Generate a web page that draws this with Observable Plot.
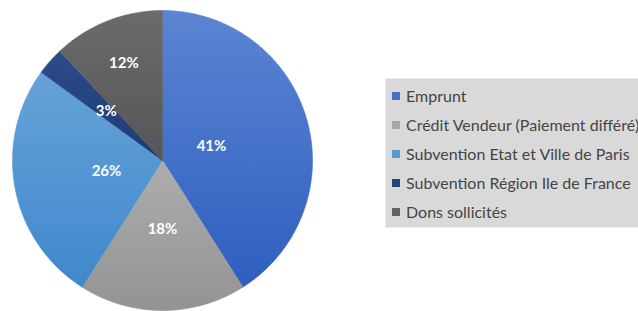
<!DOCTYPE html>
<html>
<head>
<meta charset="utf-8">
<script src="https://cdn.jsdelivr.net/npm/d3@7"></script>
<script src="https://cdn.jsdelivr.net/npm/@observablehq/plot@0.6"></script>
<style>
  html, body { margin: 0; padding: 0; background: #fff; width: 638px; height: 311px; overflow: hidden; }
  #wrap { position: relative; width: 638px; height: 311px; }
  #legend { position: absolute; left: 385px; top: 78px; width: 262px; height: 150px;
    background: #d9d9d9; border: 1px solid #ebebeb; box-sizing: border-box;
    font-family: Lato, "Open Sans", sans-serif; font-size: 16px; color: #454545; }
  .item { position: absolute; left: 6px; display: flex; align-items: center; white-space: nowrap; }
  .sw { width: 8px; height: 8px; margin-right: 6px; }
</style>
</head>
<body>
<div id="wrap"><div id="chart"></div><div id="legend"></div></div>
<script>
const categories = ["Emprunt", "Crédit Vendeur (Paiement différé)", "Subvention Etat et Ville de Paris", "Subvention Région Ile de France", "Dons sollicités"];
const values = [41, 18, 26, 3, 12];
const labels = ["41%", "18%", "26%", "3%", "12%"];
const colors = ["#4472c4", "#a5a5a5", "#5b9bd5", "#264478", "#636363"];
const gradTop = ["#5b85d3", "#adadad", "#66a2d9", "#2c4c88", "#6b6b6b"];
const gradBottom = ["#2f5ebf", "#939393", "#3f88cc", "#1e3a72", "#565656"];

const pie = d3.pie().sort(null).value(d => d)(values);

// polygon points for each slice in unit coordinates (angle 0 at top, clockwise)
const pts = [];
pie.forEach((p, i) => {
  const n = Math.max(4, Math.ceil((p.endAngle - p.startAngle) / 0.01));
  pts.push({i, x: 0, y: 0});
  for (let k = 0; k <= n; k++) {
    const a = p.startAngle + (p.endAngle - p.startAngle) * k / n;
    pts.push({i, x: Math.sin(a), y: Math.cos(a)});
  }
});
const labelRadius = [0.34, 0.46, 0.38, 0.5, 0.7];
const labelData = pie.map((p, i) => {
  const a = (p.startAngle + p.endAngle) / 2;
  const r = labelRadius[i];
  return {label: labels[i], x: r * Math.sin(a), y: r * Math.cos(a)};
});

const W = 638, H = 311;
const cx = 162, cy = 160, R = 150;
const plot = Plot.plot({
  width: W, height: H,
  marginLeft: cx - R, marginRight: W - (cx + R),
  marginTop: cy - R, marginBottom: H - (cy + R),
  x: {domain: [-1, 1], axis: null},
  y: {domain: [-1, 1], axis: null},
  color: {type: "identity"},
  style: {background: "transparent", overflow: "visible"},
  marks: [
    Plot.line(pts, {x: "x", y: "y", z: "i", fill: d => `url(#grad${d.i})`, stroke: d => `url(#grad${d.i})`, strokeWidth: 0.6, curve: "linear-closed"}),
    Plot.text(labelData, {x: "x", y: "y", text: "label", fill: "white", fontWeight: "bold", fontSize: 15, fontFamily: "Lato, 'Open Sans', sans-serif"})
  ]
});
const svgNS = "http://www.w3.org/2000/svg";
const defs = document.createElementNS(svgNS, "defs");
values.forEach((v, i) => {
  const g = document.createElementNS(svgNS, "linearGradient");
  g.setAttribute("id", "grad" + i);
  g.setAttribute("x1", "0"); g.setAttribute("y1", "0");
  g.setAttribute("x2", "0"); g.setAttribute("y2", "1");
  [[0, gradTop[i]], [1, gradBottom[i]]].forEach(([o, c]) => {
    const s = document.createElementNS(svgNS, "stop");
    s.setAttribute("offset", o); s.setAttribute("stop-color", c);
    g.appendChild(s);
  });
  defs.appendChild(g);
});
plot.insertBefore(defs, plot.firstChild);
document.getElementById("chart").appendChild(plot);

const legend = document.getElementById("legend");
categories.forEach((c, i) => {
  const d = document.createElement("div");
  d.className = "item";
  d.style.top = (7 + i * 29) + "px";
  const sw = document.createElement("span");
  sw.className = "sw"; sw.style.background = colors[i];
  const t = document.createElement("span");
  t.textContent = c;
  d.appendChild(sw); d.appendChild(t);
  legend.appendChild(d);
});
</script>
</body>
</html>
